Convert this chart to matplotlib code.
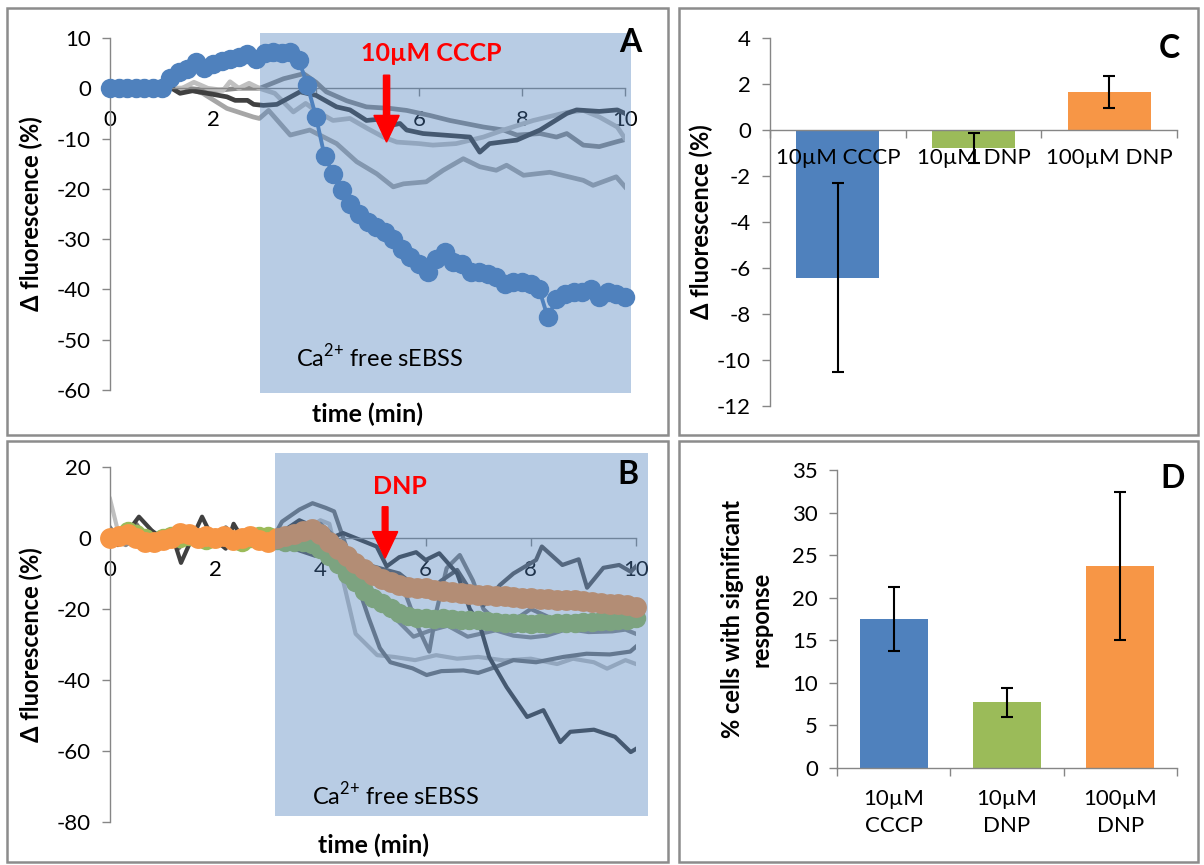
import matplotlib
matplotlib.use("Agg")
import matplotlib.pyplot as plt
import matplotlib.patches as mpatches
import numpy as np

plt.rcParams['font.family'] = ['Lato', 'DejaVu Sans']
plt.rcParams['mathtext.fontset'] = 'custom'
plt.rcParams['mathtext.rm'] = 'Lato'
plt.rcParams['axes.unicode_minus'] = False

# ── data ────────────────────────────────────────────────────
t10s = np.arange(61) / 6.0          # 10-s sampling, minutes

cccp_mean = [0, 0, 0, 0, 0, 0, 0, 2.0, 3.2, 3.8, 5.2, 4.0, 4.8, 5.5, 5.8, 6.3,
             6.8, 5.8, 7.0, 7.3, 7.0, 7.3, 5.6, 0.6, -5.7, -13.5, -17, -20.3,
             -23, -25, -26.5, -27.5, -28.5, -30, -32, -33.5, -35, -36.5, -34,
             -32.5, -34.5, -35, -36.5, -36.5, -37, -37.5, -39, -38.5, -38.5,
             -39, -40, -45.5, -42, -41, -40.5, -40.5, -40, -41.5, -40.5, -41,
             -41.5]

a_dark_t = [0, 1.2, 1.36, 1.6, 2.0, 2.27, 2.43, 2.67, 2.79, 2.98, 3.24, 3.69, 4.0,
            4.4, 4.66, 4.98, 5.18, 5.44, 5.63, 5.76, 6.08, 6.47, 6.99, 7.18, 7.37,
            7.9, 8.35, 8.87, 9.06, 9.5, 9.85, 10.0]
a_dark_y = [0, 0, -1, -0.5, -1.2, -1.7, -2.4, -2.4, -3.2, -3.4, -3.2, -0.7, -1.4,
            -3.7, -4.3, -6.4, -6.2, -7.4, -7.0, -8.3, -9.0, -9.3, -9.7, -12.7, -11,
            -10.3, -8.3, -5.0, -4.3, -4.6, -4.3, -5.0]
a_top_t = [0, 1.5, 2.0, 2.5, 2.91, 3.37, 3.76, 4.0, 4.2, 4.6, 4.98, 5.44, 5.76,
           6.21, 6.6, 7.25, 7.64, 7.9, 8.35, 8.67, 8.87, 9.19, 9.5, 9.85, 10.0]
a_top_y = [0, 0, -0.5, 0, 0, 1.9, 2.9, 1.2, -0.7, -2.5, -3.7, -4.0, -4.4, -5.4,
           -6.4, -7.7, -8.3, -9.3, -9.0, -9.7, -9.0, -11.3, -11.6, -10.6, -10.2]
a_arrow_t = [0, 1.4, 1.63, 1.9, 2.2, 2.33, 2.5, 2.7, 2.9, 3.2, 3.56, 3.8, 4.0, 4.33,
             4.66, 5.0, 5.31, 5.57, 6.0, 6.27, 6.72, 7.25, 7.64, 8.22, 8.87, 9.19,
             9.5, 9.85, 10.0]
a_arrow_y = [0, 0, 1.2, 0, -0.4, 1.3, 0, 1.0, 0, -1.0, -4.7, -3.0, -4.5, -6.4,
             -6.0, -8.0, -9.7, -10.7, -11.0, -11.3, -11.0, -9.7, -8.3, -6.4, -4.8,
             -4.4, -5.7, -7.7, -10.0]
a_low_t = [0, 1.5, 1.8, 2.27, 2.78, 2.9, 3.08, 3.5, 3.88, 4.4, 4.79, 5.18, 5.5, 5.7,
           6.14, 6.47, 6.86, 7.18, 7.5, 7.7, 8.03, 8.54, 9.19, 9.38, 9.83, 10.0]
a_low_y = [0, 0, -1, -4, -5.7, -6, -4.4, -9.3, -8.3, -11, -14.6, -17, -19.6, -19,
           -18.6, -16.3, -14, -15.6, -16.3, -15.3, -17.3, -16.7, -18.3, -19.3,
           -17.6, -19.6]

dnp100_mean = [0, 0.5, 1, 0, -1, -1, -0.5, 0, 1.5, 1, 0, 0.5, 0, 0.5, -0.5, 0, 0.5,
               -0.5, -1, 0, 0.5, 1.2, 2.0, 2.5, 1.0, -1.0, -3.0, -5.0, -7.0, -8.8,
               -10.3, -11.6, -12.5, -13.2, -13.7, -14.0, -14.2, -14.6, -15.0, -15.3,
               -15.6, -15.8, -16.0, -16.0, -16.2, -16.4, -16.6, -16.8, -17.0, -17.1,
               -17.3, -17.4, -17.5, -17.6, -17.8, -17.9, -18.2, -18.5, -18.7, -18.9,
               -19.3]
dnp10_mean = [0, 0.5, 2, 1, 0, -1, 0, 0.5, 0, 0.5, 0, -0.5, 0, 0.5, -0.5, -1, 0, 0.5,
              0.5, -0.5, -1, -1, -1.2, -1.8, -3.2, -5.0, -7.2, -10.0, -12.5, -14.8,
              -16.8, -18.3, -19.8, -21.0, -22.0, -22.5, -22.6, -22.8, -22.6, -22.8,
              -23.0, -23.1, -23.2, -23.5, -23.7, -23.9, -24.0, -24.0, -24.1, -24.0,
              -24.1, -24.0, -24.0, -24.0, -23.8, -23.7, -23.5, -23.5, -23.2, -23.0,
              -22.5]

b1_t = [0, 0.15, 0.35, 0.55, 0.8, 1.05, 1.2, 1.35, 1.5, 1.75, 1.95, 2.2, 2.35, 2.55,
        2.8, 3.0, 3.3, 3.6, 3.9, 4.2, 4.43, 4.75, 5.07, 5.26, 5.5, 5.82, 6.0, 6.26,
        6.6, 6.84, 7.03, 7.21, 7.54, 7.93, 8.24, 8.56, 8.75, 9.2, 9.6, 9.9, 10.0]
b1_y = [0, -2, 2, 6, 2, -1, 0, -7, -2, 6, 0, -3, 4, -1, 0, -1, 2, 5, 3, 0, 1.4,
        -0.5, -2.4, -8, -5.4, -4, -6.2, -4.3, -10, -20, -24.5, -33.6, -42, -50.4,
        -48.5, -57.5, -54.6, -54, -56, -60.3, -59.4]
b2_t = [0, 0.2, 0.5, 0.8, 1.0, 1.3, 1.6, 1.9, 2.2, 2.5, 2.8, 3.1, 3.27, 3.6, 3.85,
        4.1, 4.26, 4.5, 4.7, 4.92, 5.13, 5.33, 5.45, 5.75, 6.02, 6.3, 6.72, 7.0, 7.3,
        7.67, 8.1, 8.62, 9.06, 9.5, 9.89, 10.0]
b2_y = [3, -1, 4, -2, 1, -3, 2, -2, 3, -1, 2, 0, 4.6, 8, 9.8, 8.5, 7.5, -2.8, -13,
        -22.6, -31, -35, -35.5, -36.7, -38.6, -37.5, -37.3, -38, -36.5, -34.4, -35,
        -33.5, -32.6, -32.8, -32, -30.6]
b3_t = [0, 0.15, 0.4, 0.7, 1.0, 1.3, 1.6, 1.9, 2.2, 2.5, 2.8, 3.1, 3.5, 3.8, 4.0,
        4.17, 4.4, 4.67, 5.08, 5.4, 5.8, 6.2, 6.6, 7.0, 7.5, 8.0, 8.5, 8.8, 9.2,
        9.45, 9.8, 10.0]
b3_y = [11, 2, -2, 0, -1, 1, -1, 2, -1, 1, -2, 1, 2, 3, 5, 4, -10, -27, -33, -33.5,
        -34.4, -33, -34, -33.5, -34.5, -34, -35.5, -34, -35, -36.8, -34.4, -35.5]
b4_t = [0, 0.3, 0.6, 0.9, 1.2, 1.5, 1.8, 2.1, 2.4, 2.7, 3.0, 3.3, 3.6, 3.9, 4.2, 4.5,
        4.8, 5.1, 5.45, 5.77, 6.1, 6.42, 6.8, 7.33, 7.67, 8.0, 8.3, 8.7, 9.1, 9.55,
        9.8, 10.0]
b4_y = [0, -2, 1, -3, 0, 3, -2, 1, -2, 2, -1, 0, -2, -1, -3, -5, -10, -18, -23,
        -27.8, -26, -24.7, -27.8, -26, -27.5, -28, -27.5, -25.6, -26.5, -26.3,
        -25.8, -27]
b5_t = [0, 0.4, 0.8, 1.2, 1.6, 2.0, 2.4, 2.8, 3.1, 3.4, 3.7, 4.0, 4.3, 4.6, 4.9,
        5.2, 5.5, 5.85, 6.07, 6.2, 6.4, 6.65, 6.9, 7.1, 7.39, 7.8, 8.0, 8.3, 8.6,
        9.0, 9.4, 9.7, 10.0]
b5_y = [1, -1, 2, -2, 0, 2, -1, 1, 0, -3, -1, 4, 0, -5, -8, -9, -11, -25, -32, -21,
        -8.5, -4.8, -12, -20, -24, -22, -20, -22, -25, -23, -24, -22, -23]
b6_t = [0, 0.5, 1.0, 1.5, 2.0, 2.5, 3.1, 3.5, 3.9, 4.2, 4.6, 5.0, 5.5, 6.0, 6.3,
        6.6, 6.9, 7.1, 7.41, 7.67, 8.1, 8.21, 8.6, 8.91, 9.07, 9.38, 9.68, 9.9, 10.0]
b6_y = [-1, 1, -1, 2, -1, 1, 0, -3, -5, -2, -5, -8, -10, -16, -12, -9, -16, -19,
        -13.3, -10, -6.2, -2.4, -7.6, -6, -14, -8.4, -7.6, -9.5, -8]

bar_labels_c = ['10µM CCCP', '10µM DNP', '100µM DNP']
bar_vals_c = [-6.42, -0.77, 1.64]
bar_err_c = [4.1, 0.66, 0.69]

bar_labels_d = ['10µM\nCCCP', '10µM\nDNP', '100µM\nDNP']
bar_vals_d = [17.5, 7.7, 23.7]
bar_err_d = [3.7, 1.7, 8.7]

BAR_COLORS = ['#4F81BD', '#9BBB59', '#F79646']
AX_GRAY = '#868686'

# ── figure ──────────────────────────────────────────────────
W, H = 1204, 865
fig = plt.figure(figsize=(W / 100, H / 100), dpi=100, facecolor='white')


def px_axes(l, t, r, b):
    return fig.add_axes([l / W, 1 - b / H, (r - l) / W, (b - t) / H])


def style_axes(ax, zero_axis=True):
    for s in ('top', 'right'):
        ax.spines[s].set_visible(False)
    for s in ('left', 'bottom'):
        ax.spines[s].set_color(AX_GRAY)
        ax.spines[s].set_linewidth(1.0)
    if zero_axis:
        ax.spines['bottom'].set_position(('data', 0))
    ax.set_facecolor('none')
    ax.tick_params(axis='both', direction='out', length=5.8, width=1.0,
                   color=AX_GRAY, labelsize=16, labelcolor='black')


def panel_border(l, t, r, b):
    fig.add_artist(mpatches.Rectangle((l / W, 1 - b / H), (r - l) / W, (b - t) / H,
                                      transform=fig.transFigure, fill=False,
                                      edgecolor='#8C8C8C', linewidth=1.8, zorder=0))


def shade(ax, x0, x1, y0, y1):
    fig.add_artist(mpatches.Rectangle((x0, y0), x1 - x0, y1 - y0, transform=ax.transData,
                                      facecolor='#4F81BD', alpha=0.4, edgecolor='none',
                                      zorder=1))


def arrow(ax, x, y0, y1, head_len, w, hw):
    fig.add_artist(mpatches.FancyArrow(x, y0, 0, y1 - y0, width=w, head_width=hw,
                                       head_length=head_len, length_includes_head=True,
                                       transform=ax.transData, color='#FF0000',
                                       zorder=5))


panel_border(7, 8, 668, 435)
panel_border(7, 441, 668, 862)
panel_border(679, 8, 1198, 435)
panel_border(679, 441, 1198, 862)

CA_TEXT = r'Ca$^{\mathregular{2{+}}}$ free sEBSS'

# ── Panel A ─────────────────────────────────────────────────
axA = px_axes(110, 38, 625, 390)
style_axes(axA)
axA.set_xlim(0, 10)
axA.set_ylim(-60, 10)
axA.set_xticks([0, 2, 4, 6, 8, 10])
axA.set_yticks(np.arange(-60, 11, 10))
axA.tick_params(axis='x', pad=10)
axA.tick_params(axis='y', pad=8)
axA.plot(a_low_t, a_low_y, color='#A6A6A6', lw=3.4, zorder=2)
axA.plot(a_top_t, a_top_y, color='#8C8C8C', lw=3.4, zorder=2)
axA.plot(a_arrow_t, a_arrow_y, color='#C0C0C0', lw=3.4, zorder=2)
axA.plot(a_dark_t, a_dark_y, color='#404040', lw=3.4, zorder=2)
axA.plot(t10s, cccp_mean, color='#4F81BD', lw=2.8, marker='o', ms=14,
         markeredgewidth=0, zorder=3, clip_on=False)
axA.set_xlabel('time (min)', fontsize=18, fontweight='bold')
axA.xaxis.set_label_coords(0.5, -0.035)
axA.set_ylabel('Δ fluorescence (%)', fontsize=17, fontweight='bold')
axA.yaxis.set_label_coords(-0.13, 0.5)
shade(axA, 2.91, 10.12, -60.6, 10.9)
arrow(axA, 5.37, 2.6, -10.7, 5.3, 0.12, 0.49)
fig.text(6.24, 7.0, '10µM CCCP', transform=axA.transData, color='#FF0000',
         fontsize=18, fontweight='bold', ha='center', va='center', zorder=6)
fig.text(10.1, 9.1, 'A', transform=axA.transData, fontsize=23, fontweight='bold',
         ha='center', va='center', zorder=6)
fig.text(3.61, -53.4, CA_TEXT, transform=axA.transData,
         fontsize=17, ha='left', va='center', zorder=6)

# ── Panel B ─────────────────────────────────────────────────
axB = px_axes(110, 467, 636, 822)
style_axes(axB)
axB.set_xlim(0, 10)
axB.set_ylim(-80, 20)
axB.set_xticks([0, 2, 4, 6, 8, 10])
axB.set_yticks(np.arange(-80, 21, 20))
axB.tick_params(axis='x', pad=10)
axB.tick_params(axis='y', pad=8)
for bt, by, col in [(b3_t, b3_y, '#BFBFBF'), (b4_t, b4_y, '#8C8C8C'),
                    (b5_t, b5_y, '#7F7F7F'), (b2_t, b2_y, '#737373'),
                    (b6_t, b6_y, '#595959'), (b1_t, b1_y, '#404040')]:
    axB.plot(bt, by, color=col, lw=3.0, zorder=2)
axB.plot(t10s, dnp10_mean, color='#9BBB59', lw=8, marker='o', ms=14,
         markeredgewidth=0, zorder=3, clip_on=False)
axB.plot(t10s, dnp100_mean, color='#F79646', lw=9, marker='o', ms=15,
         markeredgewidth=0, zorder=4, clip_on=False)
axB.set_xlabel('time (min)', fontsize=18, fontweight='bold')
axB.xaxis.set_label_coords(0.5, -0.032)
axB.set_ylabel('Δ fluorescence (%)', fontsize=17, fontweight='bold')
axB.yaxis.set_label_coords(-0.127, 0.5)
shade(axB, 3.14, 10.23, -78.4, 24)
arrow(axB, 5.23, 8.8, -5.7, 7.5, 0.11, 0.48)
fig.text(5.51, 14.5, 'DNP', transform=axB.transData, color='#FF0000',
         fontsize=18, fontweight='bold', ha='center', va='center', zorder=6)
fig.text(9.85, 18, 'B', transform=axB.transData, fontsize=23, fontweight='bold',
         ha='center', va='center', zorder=6)
fig.text(3.84, -72.5, CA_TEXT, transform=axB.transData,
         fontsize=17, ha='left', va='center', zorder=6)

# ── Panel C ─────────────────────────────────────────────────
axC = px_axes(770, 38, 1177, 406)
style_axes(axC)
xc = np.arange(len(bar_vals_c))
axC.bar(xc, bar_vals_c, width=0.61, color=BAR_COLORS, zorder=1)
axC.errorbar(xc, bar_vals_c, yerr=bar_err_c, fmt='none', ecolor='black',
             elinewidth=1.5, capsize=4.5, capthick=1.5, zorder=3)
axC.set_xlim(-0.5, 2.5)
axC.set_ylim(-12, 4)
axC.set_yticks(np.arange(-12, 5, 2))
axC.set_xticks(xc)
axC.set_xticklabels(bar_labels_c)
axC.set_xticks([-0.5, 0.5, 1.5, 2.5], minor=True)
axC.tick_params(axis='x', which='major', length=0, pad=13)
axC.tick_params(axis='x', which='minor', direction='out', length=5.8, width=1.0,
                color=AX_GRAY)
axC.tick_params(axis='y', pad=8)
axC.set_ylabel('Δ fluorescence (%)', fontsize=17, fontweight='bold')
axC.yaxis.set_label_coords(-0.14, 0.5)
axC.text(2.44, 3.55, 'C', fontsize=23, fontweight='bold', ha='center', va='center')

# ── Panel D ─────────────────────────────────────────────────
axD = px_axes(837, 470, 1177, 768)
style_axes(axD, zero_axis=False)
xd = np.arange(len(bar_vals_d))
axD.bar(xd, bar_vals_d, width=0.6, color=BAR_COLORS, zorder=1)
axD.errorbar(xd, bar_vals_d, yerr=bar_err_d, fmt='none', ecolor='black',
             elinewidth=1.5, capsize=4.5, capthick=1.5, zorder=3)
axD.set_xlim(-0.5, 2.5)
axD.set_ylim(0, 35)
axD.set_yticks(np.arange(0, 36, 5))
axD.set_xticks(xd)
axD.set_xticklabels(bar_labels_d, linespacing=1.45)
axD.set_xticks([-0.5, 0.5, 1.5, 2.5], minor=True)
axD.tick_params(axis='x', which='major', length=0, pad=15)
axD.tick_params(axis='x', which='minor', direction='out', length=5.8, width=1.0,
                color=AX_GRAY)
axD.tick_params(axis='y', pad=8)
axD.set_ylabel('% cells with significant\nresponse', fontsize=17, fontweight='bold',
               linespacing=1.3)
axD.yaxis.set_label_coords(-0.19, 0.5)
axD.text(2.46, 34.0, 'D', fontsize=23, fontweight='bold', ha='center', va='center')

fig.savefig('out.png', dpi=100, facecolor='white')
